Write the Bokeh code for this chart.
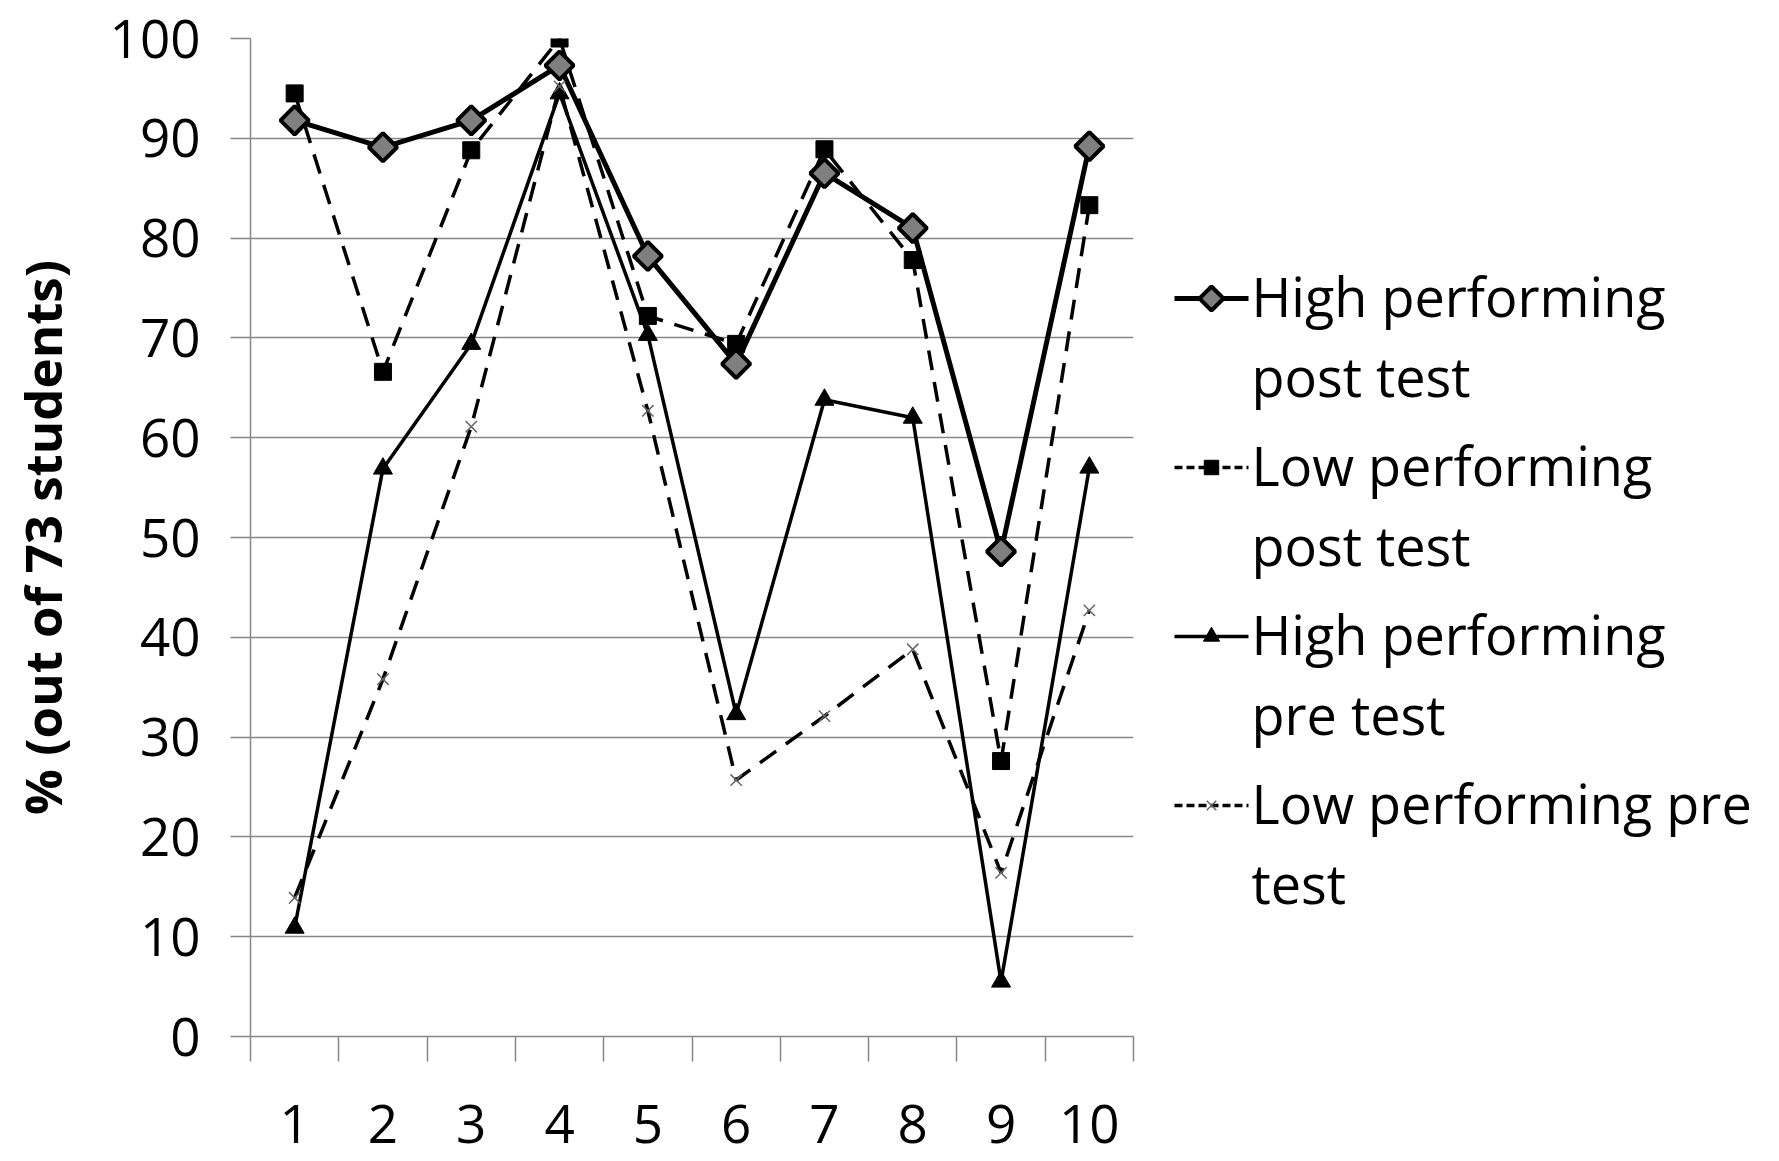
from bokeh.plotting import figure
from bokeh.layouts import row
from bokeh.models import Range1d, FixedTicker, ColumnDataSource
from bokeh.core.properties import value
from bokeh.embed import file_html
from bokeh.resources import INLINE

categories = [1, 2, 3, 4, 5, 6, 7, 8, 9, 10]
high_post = [91.8, 89.1, 91.8, 97.3, 78.2, 67.4, 86.5, 81.0, 48.6, 89.2]
low_post = [94.5, 66.6, 88.8, 100.0, 72.2, 69.4, 88.9, 77.8, 27.6, 83.3]
high_pre = [10.9, 56.9, 69.4, 94.5, 70.3, 32.3, 63.8, 62.0, 5.5, 57.0]
low_pre = [13.9, 35.8, 61.1, 95.2, 62.7, 25.7, 32.1, 38.8, 16.4, 42.7]
series_names = ["High performing\npost test", "Low performing\npost test",
                "High performing\npre test", "Low performing pre\ntest"]
y_ticks = [0, 10, 20, 30, 40, 50, 60, 70, 80, 90, 100]
y_label = "% (out of 73 students)"

FONT = "Open Sans"
GRID = "#868686"

styles = [
    dict(vals=high_post, lw=5, dash="solid", marker="square", size=20, angle=0.785398,
         fill="#7f7f7f", mline="black", mlw=4),
    dict(vals=low_post, lw=3.5, dash="20 12", marker="square", size=17, angle=0,
         fill="black", mline="black", mlw=1),
    dict(vals=high_pre, lw=3.5, dash="solid", marker="triangle", size=19, angle=0,
         fill="black", mline="black", mlw=1),
    dict(vals=low_pre, lw=3.5, dash="20 12", marker="x", size=16, angle=0,
         fill=None, mline="#666666", mlw=1.5),
]

TOP, LEFT, FW, FH, BOTTOM = 38, 250, 883, 998, 121
MAIN_W = LEFT + FW + 10
H = TOP + FH + BOTTOM

p = figure(width=MAIN_W, height=H, output_backend="svg", toolbar_location=None,
           x_range=Range1d(0.5, 10.5), y_range=Range1d(0, 100),
           min_border_left=LEFT, min_border_right=10, min_border_top=TOP, min_border_bottom=BOTTOM)
p.outline_line_color = None
p.background_fill_color = "white"
p.border_fill_color = "white"

# x axis: ticks at category boundaries, labels at centers
p.xaxis.ticker = FixedTicker(ticks=categories, minor_ticks=[c - 0.5 for c in categories] + [categories[-1] + 0.5])
p.xaxis.major_tick_out = 0
p.xaxis.major_tick_in = 0
p.xaxis.minor_tick_out = 25
p.xaxis.minor_tick_in = 0
p.xaxis.minor_tick_line_color = GRID
p.xaxis.minor_tick_line_width = 1.5
p.xaxis.axis_line_color = GRID
p.xaxis.axis_line_width = 1.5
p.xaxis.major_label_standoff = 43
p.xaxis.major_label_text_font = FONT
p.xaxis.major_label_text_font_size = "53px"
p.xaxis.major_label_text_color = "black"

p.yaxis.ticker = FixedTicker(ticks=y_ticks)
p.yaxis.minor_tick_line_color = None
p.yaxis.major_tick_out = 20
p.yaxis.major_tick_in = 0
p.yaxis.major_tick_line_color = GRID
p.yaxis.major_tick_line_width = 1.5
p.yaxis.axis_line_color = GRID
p.yaxis.axis_line_width = 1.5
p.yaxis.major_label_standoff = 30
p.yaxis.major_label_text_font = FONT
p.yaxis.major_label_text_font_size = "53px"
p.yaxis.major_label_text_color = "black"
p.yaxis.axis_label = y_label
p.yaxis.axis_label_text_font = FONT
p.yaxis.axis_label_text_font_size = "51px"
p.yaxis.axis_label_text_font_style = "bold"
p.yaxis.axis_label_text_color = "black"
p.yaxis.axis_label_standoff = 30

p.xgrid.grid_line_color = None
p.ygrid.ticker = FixedTicker(ticks=y_ticks)
p.ygrid.grid_line_color = GRID
p.ygrid.grid_line_width = 1.5

for s in styles:
    src = ColumnDataSource(dict(x=categories, y=s["vals"]))
    p.line("x", "y", source=src, line_color="black", line_width=s["lw"], line_dash=s["dash"])
for s in styles:
    src = ColumnDataSource(dict(x=categories, y=s["vals"]))
    p.scatter("x", "y", source=src, marker=s["marker"], size=s["size"], angle=s["angle"],
              fill_color=s["fill"], line_color=s["mline"], line_width=s["mlw"])

# legend panel (its frame is aligned with the main frame by the row layout,
# so its ranges are expressed in page pixels over that frame)
LW = 1771 - MAIN_W
leg = figure(width=LW, height=H, output_backend="svg", toolbar_location=None,
             x_range=Range1d(0, LW), y_range=Range1d(TOP + FH, TOP),
             min_border_left=0, min_border_right=0, min_border_top=TOP, min_border_bottom=BOTTOM)
leg.axis.visible = False
leg.grid.visible = False
leg.outline_line_color = None
leg.border_fill_color = "white"

first_line_y = 295
entry_gap = 169
line_gap = 80
gx0, gx1, gmid, tx = 31, 105, 68, 108
for i, (name, s) in enumerate(zip(series_names, styles)):
    y0 = first_line_y + i * entry_gap
    gy = y0 + 3
    leg.line([gx0, gx1], [gy, gy], line_color="black", line_width=s["lw"],
             line_dash="8 4" if s["dash"] != "solid" else "solid")
    leg.scatter([gmid], [gy], marker=s["marker"], size=s["size"] * 0.85, angle=s["angle"],
                fill_color=s["fill"], line_color=s["mline"], line_width=s["mlw"])
    for j, part in enumerate(name.split("\n")):
        leg.text([tx], [y0 + j * line_gap], text=[part], text_font=value(FONT),
                 text_font_size="54px", text_baseline="middle", text_align="left",
                 text_color="black")

layout = row(p, leg)
open("out.html", "w").write(file_html(layout, INLINE))
